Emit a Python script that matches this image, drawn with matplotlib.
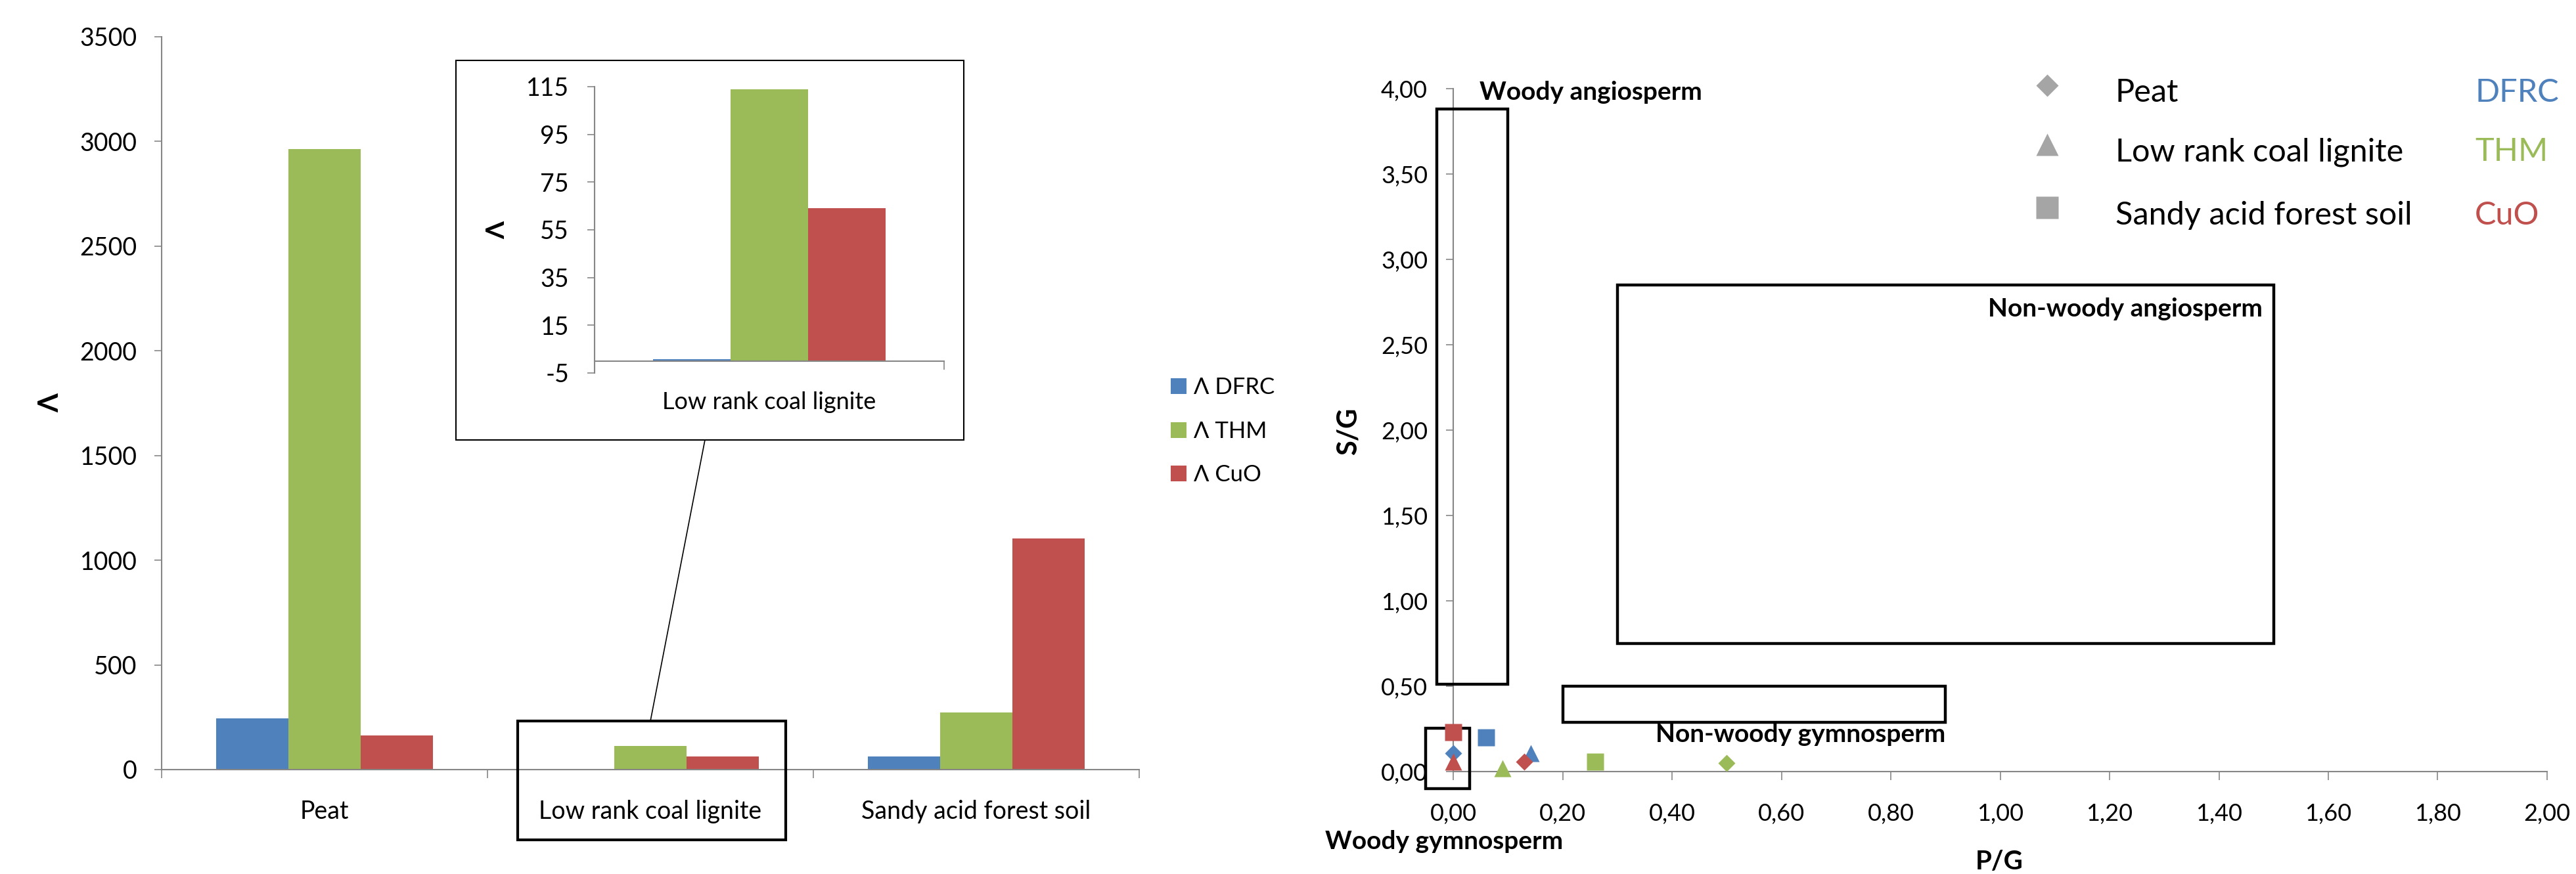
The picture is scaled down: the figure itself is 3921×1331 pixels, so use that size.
#!/usr/bin/env python3
# -*- coding: utf-8 -*-
"""
plot.py - lambda values of the three methods per sample (bar chart with zoom inset)
and the P/G vs S/G source diagram on the right.
"""

import matplotlib
matplotlib.use("Agg")
import matplotlib.pyplot as plt
from matplotlib.patches import Rectangle, ConnectionPatch
from matplotlib.lines import Line2D
from matplotlib.ticker import FuncFormatter
import numpy as np

plt.rcParams['font.family'] = ['Lato', 'DejaVu Sans']
plt.rcParams['axes.unicode_minus'] = False

# ---- data -------------------------------------------------------------
samples = ['Peat', 'Low rank coal lignite', 'Sandy acid forest soil']
methods = ['DFRC', 'THM', 'CuO']

lambda_dfrc = [246, 0.8, 62]
lambda_thm = [2965, 114, 273]
lambda_cuo = [162, 64, 1104]

# P/G and S/G per sample (Peat, lignite, sandy soil)
pg_dfrc = [0.0, 0.142, 0.060]
sg_dfrc = [0.109, 0.108, 0.199]
pg_thm = [0.50, 0.090, 0.26]
sg_thm = [0.049, 0.018, 0.059]
pg_cuo = [0.130, 0.0, 0.0]
sg_cuo = [0.058, 0.059, 0.229]

# source fields: name, (x0, x1), (y0, y1)
field_names = ['Woody angiosperm', 'Non-woody angiosperm',
               'Non-woody gymnosperm', 'Woody gymnosperm']
field_pg = [(-0.03, 0.10), (0.30, 1.50), (0.20, 0.90), (-0.05, 0.03)]
field_sg = [(0.51, 3.88), (0.75, 2.85), (0.29, 0.50), (-0.10, 0.254)]

# ---- style ------------------------------------------------------------
W, H = 3921, 1331
BLUE = '#4F81BD'
GREEN = '#9BBB59'
RED = '#C0504D'
AXGRAY = '#868686'
LEGGRAY = '#A5A5A5'
colors = [BLUE, GREEN, RED]
sample_markers = ['D', '^', 's']
marker_sizes = [13.2, 18.7, 19.4]


def fx(px):
    return px / W


def fy(py):
    return 1 - py / H


def comma_fmt(v, pos):
    return f'{v:.2f}'.replace('.', ',')


def style_axis(ax):
    for s in ['top', 'right']:
        ax.spines[s].set_visible(False)
    for s in ['left', 'bottom']:
        ax.spines[s].set_color(AXGRAY)
        ax.spines[s].set_linewidth(1.5)
    ax.tick_params(colors=AXGRAY, labelcolor='black', width=1.2)


def plot_bars(fig):
    series = [lambda_dfrc, lambda_thm, lambda_cuo]
    bw = 0.222
    x = np.arange(len(samples))

    ax = fig.add_axes([fx(246), fy(1172), 1488 / W, 1116 / H])
    style_axis(ax)
    for k, (vals, c) in enumerate(zip(series, colors)):
        ax.bar(x + (k - 1) * bw, vals, width=bw, color=c, zorder=2)
    ax.set_xlim(-0.5, 2.5)
    ax.set_ylim(0, 3500)
    ax.set_yticks(np.arange(0, 3501, 500))
    ax.tick_params(axis='y', length=8, pad=19, labelsize=27)
    ax.set_xticks([-0.5, 0.5, 1.5, 2.5])
    ax.set_xticklabels([])
    ax.tick_params(axis='x', which='major', length=9.5, direction='out')
    ax.set_xticks(x, minor=True)
    ax.set_xticklabels(samples, minor=True)
    ax.tick_params(axis='x', which='minor', length=0, pad=33, labelsize=27)
    fig.text(fx(77), fy(614), 'Λ', rotation=90, fontsize=30, fontweight='bold',
             ha='center', va='center')

    # highlight of the zoomed category
    ax.add_patch(Rectangle((0.593, -336), 0.822, 568, fill=False, ec='black',
                           lw=3, clip_on=False, zorder=4))

    # inset frame + connector
    fig.add_artist(Rectangle((fx(694), fy(670)), (1467 - 694) / W, (670 - 92) / H,
                             transform=fig.transFigure, fc='white', ec='black',
                             lw=1.5, zorder=5))
    fig.add_artist(ConnectionPatch(xyA=(1.0, 232), coordsA=ax.transData,
                                   xyB=(fx(1073), fy(670)), coordsB='figure fraction',
                                   color='black', lw=1.2, zorder=5))

    axi = fig.add_axes([fx(905), fy(568), 532 / W, 436 / H], zorder=6)
    axi.set_facecolor('none')
    style_axis(axi)
    axi.spines['bottom'].set_position(('data', 0))
    for k, (vals, c) in enumerate(zip(series, colors)):
        axi.bar((k - 1) * bw, vals[1], width=bw, color=c, zorder=2)
    axi.set_xlim(-0.5, 0.5)
    axi.set_ylim(-5, 115)
    axi.set_yticks(np.arange(-5, 116, 20))
    axi.tick_params(axis='y', length=8, pad=20, labelsize=27)
    axi.set_xticks([0.5])
    axi.set_xticklabels([])
    axi.tick_params(axis='x', which='major', length=9.5, direction='out')
    axi.set_xticks([0], minor=True)
    axi.set_xticklabels([samples[1]], minor=True)
    axi.tick_params(axis='x', which='minor', length=0, pad=33, labelsize=26)
    fig.text(fx(757), fy(350), 'Λ', rotation=90, fontsize=28, fontweight='bold',
             ha='center', va='center', zorder=7)

    # legend
    rows = [600, 667, 733]
    for m, c, yb in zip(methods, colors, rows):
        fig.add_artist(Rectangle((fx(1782), fy(yb)), 24 / W, 24 / H,
                                 transform=fig.transFigure, fc=c, ec='none'))
        fig.text(fx(1817), fy(yb), 'Λ ' + m, fontsize=25, ha='left', va='baseline')


def plot_scatter(fig):
    ax = fig.add_axes([fx(2212), fy(1175), (3877 - 2212) / W, 1040 / H])
    style_axis(ax)
    ax.set_xlim(0, 2)
    ax.set_ylim(0, 4)
    ax.set_xticks(np.arange(0, 2.01, 0.2))
    ax.set_yticks(np.arange(0, 4.01, 0.5))
    ax.xaxis.set_major_formatter(FuncFormatter(comma_fmt))
    ax.yaxis.set_major_formatter(FuncFormatter(comma_fmt))
    ax.tick_params(axis='x', length=9.5, pad=25, labelsize=26)
    ax.tick_params(axis='y', length=8, pad=20, labelsize=26)

    # source fields
    for name, (x0, x1), (y0, y1) in zip(field_names, field_pg, field_sg):
        ax.add_patch(Rectangle((x0, y0), x1 - x0, y1 - y0, fill=False, ec='black',
                               lw=3.2, clip_on=False, zorder=3))
    ax.text(0.048, 3.98, field_names[0], fontsize=28, fontweight='bold',
            ha='left', va='center', clip_on=False)
    ax.text(1.48, 2.71, field_names[1], fontsize=28, fontweight='bold',
            ha='right', va='center')
    ax.text(0.37, 0.219, field_names[2], fontsize=28, fontweight='bold',
            ha='left', va='center')
    ax.text(-0.234, -0.41, field_names[3], fontsize=28, fontweight='bold',
            ha='left', va='center', clip_on=False)

    # points, one series per method
    for pg, sg, c in [(pg_dfrc, sg_dfrc, BLUE), (pg_thm, sg_thm, GREEN),
                      (pg_cuo, sg_cuo, RED)]:
        for j in range(len(samples)):
            ax.plot(pg[j], sg[j], marker=sample_markers[j], ms=marker_sizes[j],
                    color=c, mec='none', ls='none', clip_on=False, zorder=5)

    fig.text(fx(2053), fy(657), 'S/G', rotation=90, fontsize=30, fontweight='bold',
             ha='center', va='center')
    fig.text(fx(3043), fy(1312), 'P/G', fontsize=29, fontweight='bold',
             ha='center', va='center')

    # legend: marker = sample, colour = method
    leg_ms = [17.3, 24.5, 24.5]
    mrows = [130, 220, 316]
    trows = [155, 245, 342]
    for j in range(len(samples)):
        fig.add_artist(Line2D([fx(3116)], [fy(mrows[j])], marker=sample_markers[j],
                              ms=leg_ms[j], color=LEGGRAY, mec='none', ls='none',
                              transform=fig.transFigure))
        fig.text(fx(3220), fy(trows[j]), samples[j], fontsize=35, va='baseline')
        fig.text(fx(3767), fy(trows[j]), methods[j], fontsize=35, va='baseline',
                 color=colors[j])


def main():
    fig = plt.figure(figsize=(W / 100, H / 100), dpi=100)
    plot_bars(fig)
    plot_scatter(fig)
    fig.savefig('out.png', dpi=100)


if __name__ == "__main__":
    main()
